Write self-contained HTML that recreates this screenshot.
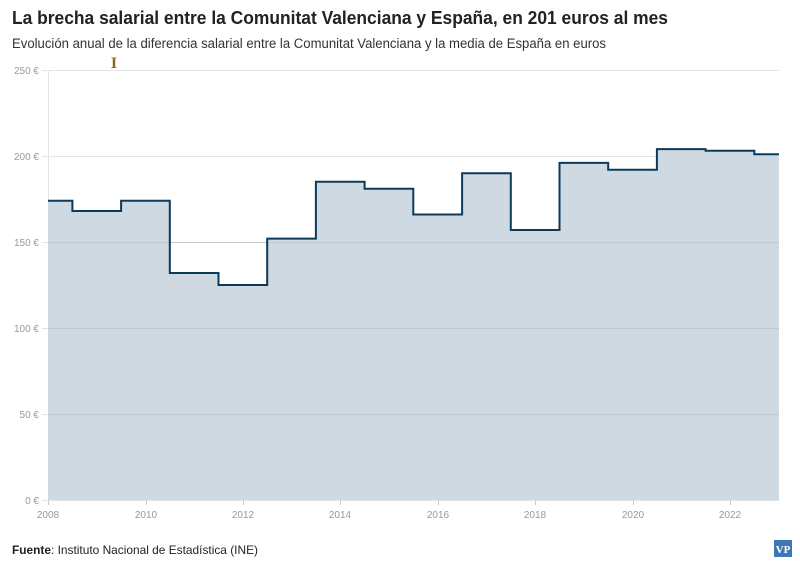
<!DOCTYPE html>
<html><head><meta charset="utf-8"><style>
body{margin:0;background:#fff;width:800px;height:566px;overflow:hidden;font-family:"Liberation Sans",sans-serif}
</style></head><body>
<svg width="800" height="566" xmlns="http://www.w3.org/2000/svg" font-family="Liberation Sans, sans-serif">
<text x="12" y="24" font-size="18" font-weight="bold" fill="#222" textLength="656" lengthAdjust="spacingAndGlyphs">La brecha salarial entre la Comunitat Valenciana y España, en 201 euros al mes</text>
<text x="12" y="48" font-size="13.5" fill="#333" textLength="594" lengthAdjust="spacingAndGlyphs">Evolución anual de la diferencia salarial entre la Comunitat Valenciana y la media de España en euros</text>
<g stroke="#e4e4e4" stroke-width="1">
<line x1="42" y1="70.5" x2="779" y2="70.5"/>
<line x1="42" y1="156.5" x2="779" y2="156.5"/>
<line x1="42" y1="242.5" x2="779" y2="242.5"/>
<line x1="42" y1="328.5" x2="779" y2="328.5"/>
<line x1="42" y1="414.5" x2="779" y2="414.5"/>
<line x1="42" y1="500.5" x2="779" y2="500.5"/>
<line x1="48.5" y1="70" x2="48.5" y2="500"/>
</g>
<path d="M48,500 V200.7 H72.4 V211 H121.1 V200.7 H169.8 V273 H218.5 V285 H267.2 V238.6 H315.9 V181.8 H364.6 V188.7 H413.3 V214.5 H462.1 V173.2 H510.8 V230 H559.5 V162.9 H608.2 V169.8 H656.9 V149.1 H705.6 V150.8 H754.3 V154.3 H779 V500 Z" fill="#cfd9e1"/>
<g stroke="#bfcad4" stroke-width="1">
<line x1="48" y1="242.5" x2="779" y2="242.5"/>
<line x1="48" y1="328.5" x2="779" y2="328.5"/>
<line x1="48" y1="414.5" x2="779" y2="414.5"/>
</g>
<path d="M48,200.7 H72.4 V211 H121.1 V200.7 H169.8 V273 H218.5 V285 H267.2 V238.6 H315.9 V181.8 H364.6 V188.7 H413.3 V214.5 H462.1 V173.2 H510.8 V230 H559.5 V162.9 H608.2 V169.8 H656.9 V149.1 H705.6 V150.8 H754.3 V154.3 H779" fill="none" stroke="#0d3a5a" stroke-width="2"/>
<g font-size="10" fill="#999" text-anchor="end">
<text x="39" y="74">250 €</text>
<text x="39" y="160">200 €</text>
<text x="39" y="246">150 €</text>
<text x="39" y="332">100 €</text>
<text x="39" y="418">50 €</text>
<text x="39" y="504">0 €</text>
</g>
<g stroke="#ccc"><line x1="48.5" y1="500" x2="48.5" y2="505"/><line x1="146.5" y1="500" x2="146.5" y2="505"/><line x1="243.5" y1="500" x2="243.5" y2="505"/><line x1="340.5" y1="500" x2="340.5" y2="505"/><line x1="438.5" y1="500" x2="438.5" y2="505"/><line x1="535.5" y1="500" x2="535.5" y2="505"/><line x1="633.5" y1="500" x2="633.5" y2="505"/><line x1="730.5" y1="500" x2="730.5" y2="505"/></g>
<g font-size="10" fill="#999" text-anchor="middle">
<text x="48" y="518">2008</text><text x="146" y="518">2010</text><text x="243" y="518">2012</text><text x="340" y="518">2014</text><text x="438" y="518">2016</text><text x="535" y="518">2018</text><text x="633" y="518">2020</text><text x="730" y="518">2022</text>
</g>
<text x="114" y="68" font-size="16" font-weight="bold" fill="#8a6a1a" text-anchor="middle" font-family="Liberation Serif, serif">I</text>
<text x="12" y="554" font-size="12" fill="#222" textLength="246" lengthAdjust="spacingAndGlyphs"><tspan font-weight="bold">Fuente</tspan>: Instituto Nacional de Estadística (INE)</text>
<rect x="774" y="540" width="18" height="17" fill="#3f76b4"/>
<text x="783" y="553" font-size="11" font-weight="bold" fill="#fff" text-anchor="middle" font-family="Liberation Serif, serif">VP</text>
</svg>
</body></html>
